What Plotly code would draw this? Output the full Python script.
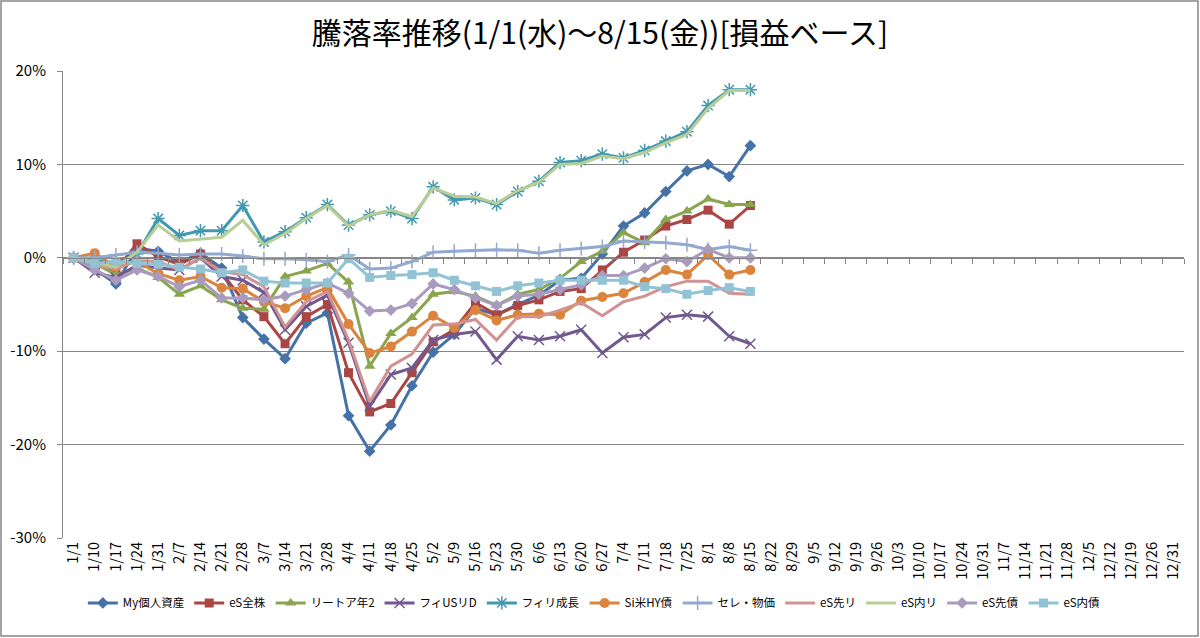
import plotly.graph_objects as go

categories = ["1/1", "1/10", "1/17", "1/24", "1/31", "2/7", "2/14", "2/21", "2/28",
              "3/7", "3/14", "3/21", "3/28", "4/4", "4/11", "4/18", "4/25",
              "5/2", "5/9", "5/16", "5/23", "5/30", "6/6", "6/13", "6/20", "6/27",
              "7/4", "7/11", "7/18", "7/25", "8/1", "8/8", "8/15", "8/22", "8/29",
              "9/5", "9/12", "9/19", "9/26", "10/3", "10/10", "10/17", "10/24", "10/31",
              "11/7", "11/14", "11/21", "11/28", "12/5", "12/12", "12/19", "12/26", "12/31"]

my_assets = [0, -1.2, -2.8, 1.0, 0.7, -0.5, 0.5, -1.1, -6.4, -8.7, -10.8, -7.0, -5.9,
             -16.9, -20.7, -17.9, -13.7, -10.1, -8.2, -5.4, -6.1, -5.0, -4.0, -2.4, -2.2,
             0.4, 3.4, 4.8, 7.1, 9.3, 10.0, 8.7, 12.0]
es_zenkabu = [0, -0.7, -1.3, 1.5, 0.1, -0.7, 0.4, -1.6, -4.5, -6.3, -9.2, -6.3, -5.0,
              -12.3, -16.5, -15.6, -12.3, -9.0, -7.7, -4.8, -6.1, -5.1, -4.5, -3.6, -3.3,
              -1.3, 0.6, 1.9, 3.4, 4.1, 5.1, 3.6, 5.6]
reit_a2 = [0, -0.6, -1.8, -1.1, -2.1, -3.9, -3.0, -4.5, -5.4, -5.5, -2.0, -1.4, -0.6,
           -2.6, -11.6, -8.1, -6.4, -3.9, -3.6, -4.1, -5.1, -3.9, -3.4, -2.2, -0.4,
           0.7, 2.7, 1.6, 4.1, 5.0, 6.3, 5.7, 5.7]
fi_us_rd = [0, -1.6, -2.1, -0.8, -1.1, -1.3, 0.0, -2.0, -2.4, -3.7, -7.7, -5.2, -4.0,
            -9.1, -15.9, -12.5, -11.8, -8.8, -8.2, -7.9, -10.9, -8.4, -8.8, -8.4, -7.7,
            -10.2, -8.5, -8.2, -6.4, -6.1, -6.3, -8.4, -9.2]
fi_ri_growth = [0, -0.3, -0.5, 0.4, 4.2, 2.4, 2.9, 2.9, 5.6, 1.7, 2.8, 4.3, 5.7,
                3.5, 4.6, 5.0, 4.2, 7.6, 6.2, 6.4, 5.7, 7.1, 8.2, 10.2, 10.4,
                11.1, 10.7, 11.5, 12.5, 13.5, 16.3, 18.0, 18.0]
si_us_hy = [0, 0.5, -1.0, -0.4, -1.7, -2.4, -2.0, -3.2, -3.3, -4.7, -5.4, -4.1, -3.2,
            -7.1, -10.2, -9.5, -7.9, -6.2, -7.5, -5.6, -6.7, -6.1, -6.0, -6.1, -4.6,
            -4.2, -3.8, -2.6, -1.3, -1.8, 0.3, -1.8, -1.3]
sere_bukka = [0, 0.0, 0.3, 0.6, 0.5, 0.3, 0.4, 0.4, 0.2, -0.1, -0.1, -0.2, -0.4,
              0.3, -1.2, -1.1, -0.4, 0.6, 0.7, 0.8, 0.85, 0.8, 0.5, 0.8, 1.0,
              1.2, 1.8, 1.7, 1.6, 1.4, 0.9, 1.2, 0.8]
es_saki_ri = [0, -0.8, -1.2, -0.3, -0.4, -1.3, 0.0, -1.5, -1.8, -3.1, -7.4, -4.7, -3.6,
              -8.8, -15.4, -11.6, -10.3, -7.2, -7.1, -6.6, -8.8, -6.3, -6.3, -5.6, -4.8,
              -6.2, -4.7, -4.1, -3.1, -2.5, -2.5, -3.8, -3.9]
es_uchi_ri = [0, -0.5, -1.0, 0.6, 3.5, 1.8, 2.0, 2.2, 4.0, 1.4, 2.6, 4.2, 5.6,
              3.4, 4.6, 5.1, 4.4, 7.5, 6.6, 6.5, 5.8, 7.2, 8.1, 10.0, 10.1,
              10.9, 10.6, 11.3, 12.3, 13.2, 16.0, 17.9, 17.9]
es_saki_sai = [0, -1.3, -2.4, -1.3, -2.0, -3.1, -2.4, -4.3, -4.3, -4.5, -4.1, -3.4, -2.7,
               -3.8, -5.7, -5.6, -4.9, -2.8, -3.4, -4.3, -5.1, -4.1, -3.9, -3.4, -2.9,
               -1.9, -1.9, -1.1, -0.1, -0.4, 0.9, 0.0, 0.0]
es_uchi_sai = [0, -0.6, -0.4, -0.6, -0.7, -1.0, -1.2, -1.6, -1.3, -2.5, -2.7, -2.7, -2.7,
               -0.1, -2.1, -1.9, -1.8, -1.6, -2.4, -3.0, -3.6, -3.0, -2.7, -2.4, -2.4,
               -2.4, -2.4, -3.1, -3.3, -3.9, -3.5, -3.2, -3.6]

y_ticks = [20, 10, 0, -10, -20, -30]
y_tick_labels = ["20%", "10%", "0%", "-10%", "-20%", "-30%"]

series = [
    ("My個人資産", my_assets, "#4572A7", "diamond", 9),
    ("eS全株", es_zenkabu, "#AA4643", "square", 9),
    ("リートア年2", reit_a2, "#89A54E", "triangle-up", 10),
    ("フィUSリD", fi_us_rd, "#71588F", "x-thin-open", 10),
    ("フィリ成長", fi_ri_growth, "#4198AF", "asterisk-open", 11),
    ("Si米HY債", si_us_hy, "#DB843D", "circle", 10),
    ("セレ・物価", sere_bukka, "#93A9CF", "cross-thin-open", 10),
    ("eS先リ", es_saki_ri, "#D19392", None, 0),
    ("eS内リ", es_uchi_ri, "#B9CD96", None, 0),
    ("eS先債", es_saki_sai, "#A99BBD", "diamond", 9),
    ("eS内債", es_uchi_sai, "#92C3D4", "square", 9),
]

font_family = "Noto Sans CJK JP"
fig = go.Figure()

for name, vals, color, sym, size in series:
    x = categories[:len(vals)]
    if sym is None:
        fig.add_trace(go.Scatter(x=x, y=vals, name=name, mode="lines",
                                 line=dict(color=color, width=3)))
    else:
        marker = dict(symbol=sym, size=size, color=color,
                      line=dict(color=color, width=1.5 if "open" in sym else 0))
        fig.add_trace(go.Scatter(x=x, y=vals, name=name, mode="lines+markers",
                                 line=dict(color=color, width=3), marker=marker))

# invisible trace for the axis drawn across 0%
fig.add_trace(go.Scatter(x=categories, y=[None] * len(categories), xaxis="x2",
                         showlegend=False, hoverinfo="skip", mode="lines"))

fig.update_layout(
    width=1200, height=638,
    paper_bgcolor="white", plot_bgcolor="white",
    margin=dict(l=63, r=16, t=71, b=100),
    font=dict(family=font_family, size=13, color="black"),
    title=dict(text="騰落率推移(1/1(水)～8/15(金))[損益ベース]",
               x=0.5, xanchor="center", y=0.948, yanchor="middle",
               font=dict(size=30, family=font_family, color="black")),
    xaxis=dict(type="category", categoryorder="array", categoryarray=categories,
               range=[-0.5, len(categories) - 0.5], tickangle=-90,
               showgrid=False, showline=False, ticks="", zeroline=False,
               tickfont=dict(size=14.5, family=font_family), automargin=False),
    xaxis2=dict(type="category", categoryorder="array", categoryarray=categories,
                range=[-0.5, len(categories) - 0.5], overlaying="x", anchor="free",
                position=0.6, showticklabels=False, showgrid=False,
                showline=True, linecolor="#868686", linewidth=1,
                ticks="outside", tickson="boundaries", ticklen=5,
                tickcolor="#868686", tickwidth=1, side="bottom"),
    yaxis=dict(range=[-30, 20], tickvals=y_ticks, ticktext=y_tick_labels,
               showgrid=True, gridcolor="#868686", gridwidth=1,
               showline=True, linecolor="#868686", linewidth=1,
               ticks="outside", ticklen=5, tickcolor="#868686",
               ticklabelstandoff=8,
               zeroline=False, tickfont=dict(size=15, family=font_family),
               automargin=False),
    legend=dict(orientation="h", x=0.474, xanchor="center", y=-0.139, yanchor="middle",
                font=dict(size=11.5, family=font_family), itemwidth=30,
                tracegroupgap=0, bgcolor="rgba(0,0,0,0)"),
    showlegend=True,
)

# chart outer border
fig.add_shape(type="rect", xref="paper", yref="paper",
              x0=-62 / 1121, x1=(1198 - 63) / 1121,
              y0=-98 / 467, y1=1 + 70 / 467,
              line=dict(color="#868686", width=1.5), fillcolor="rgba(0,0,0,0)", layer="below")

fig.write_html("out.html", config={"displayModeBar": False},
               post_script="document.body.style.margin='0px';document.body.style.overflow='hidden';")
